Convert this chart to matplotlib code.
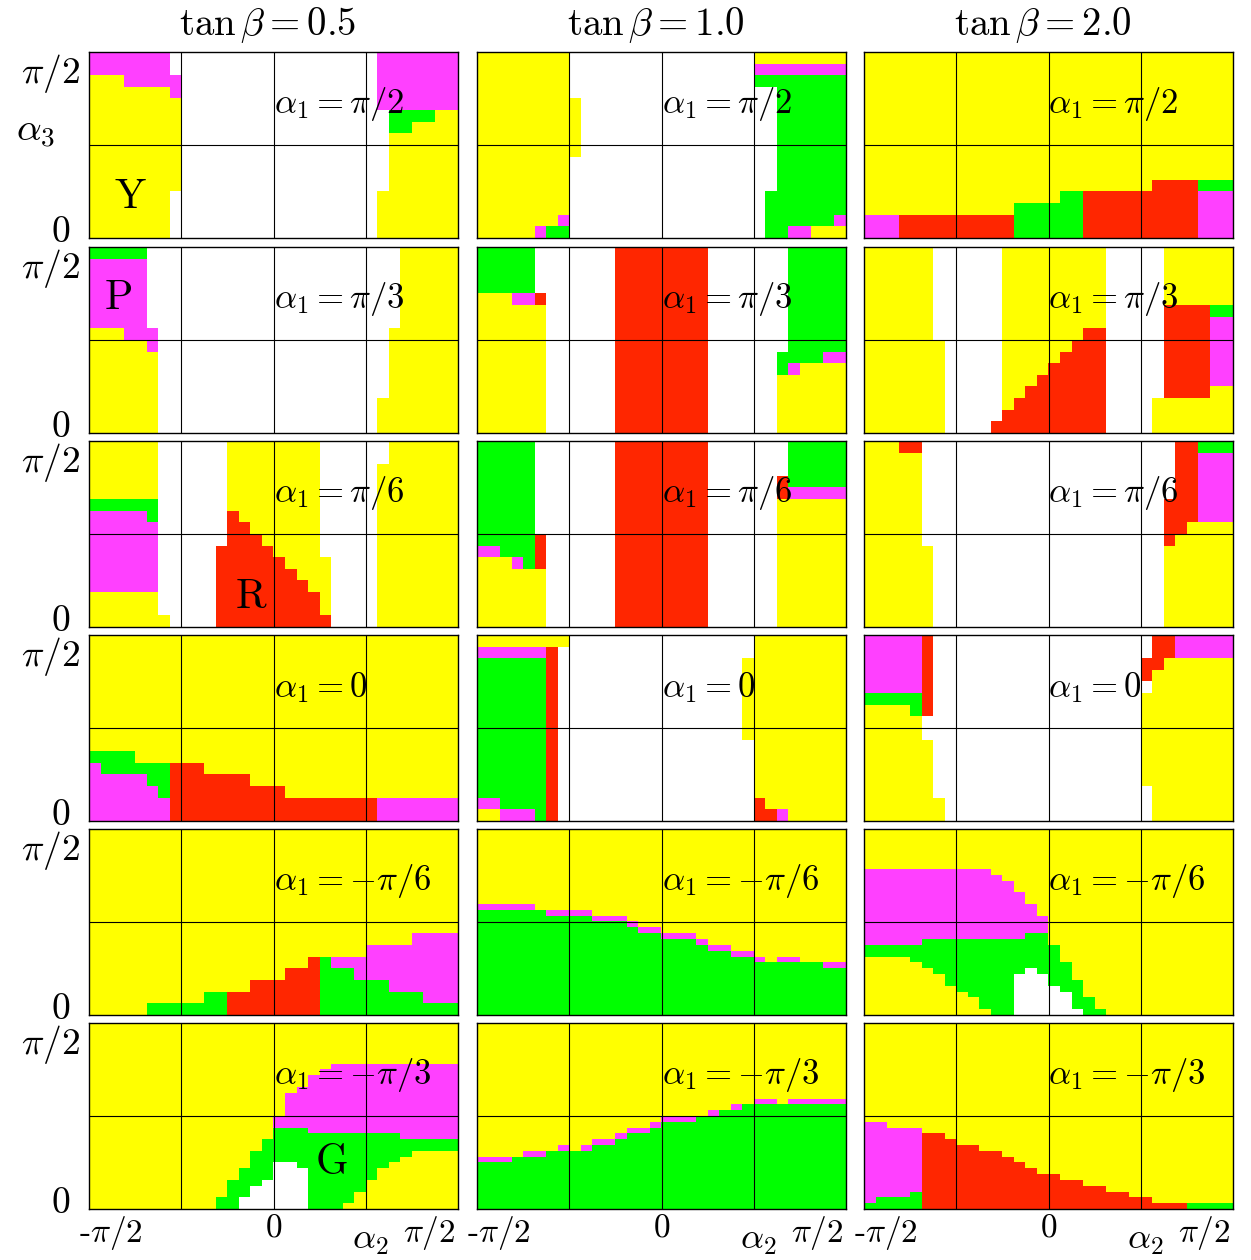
import numpy as np
import matplotlib
matplotlib.use("Agg")
import matplotlib.pyplot as plt
from matplotlib.colors import ListedColormap

plt.rcParams['mathtext.fontset'] = 'cm'
plt.rcParams['font.family'] = 'serif'
plt.rcParams['font.serif'] = ['cmr10']
plt.rcParams['axes.unicode_minus'] = False
plt.rcParams['axes.formatter.use_mathtext'] = True

# region maps over (alpha2, alpha3): each row is a run list "<code><count>",
# top row = alpha3 = pi/2, left column = alpha2 = -pi/2; "n*" repeats a row.
# Y yellow, P magenta, G green, R red, . white
tan_beta = ["0.5", "1.0", "2.0"]
alpha1 = [r"\pi/2", r"\pi/3", r"\pi/6", "0", r"-\pi/6", r"-\pi/3"]

map_05_pi2 = [
    "2*P7 .18 P7",
    "Y3 P5 .17 P7",
    "Y7 P1 .17 P7",
    "Y8 .17 P7",
    "Y8 .18 G4 Y2",
    "Y8 .18 G2 Y4",
    "5*Y8 .18 Y6",
    "4*Y7 .18 Y7",
]
map_10_pi2 = [
    "Y8 .16 Y8",
    "Y8 .16 P8",
    "Y8 .16 G8",
    "Y8 .18 G6",
    "5*Y9 .17 G6",
    "3*Y8 .18 G6",
    "2*Y8 .17 G7",
    "Y7 P1 .17 G6 P1",
    "Y5 P1 G2 .17 G2 P2 Y3",
]
map_20_pi2 = [
    "11*Y32",
    "Y25 R4 G3",
    "Y17 G2 R10 P3",
    "Y13 G6 R10 P3",
    "2*P3 R10 G6 R10 P3",
]

map_05_pi3 = [
    "G5 .22 Y5",
    "6*P5 .22 Y5",
    "Y3 P3 .20 Y6",
    "Y5 P1 .20 Y6",
    "4*Y6 .20 Y6",
    "3*Y6 .19 Y7",
]
map_10_pi3 = [
    "4*G5 .7 R8 .7 G5",
    "Y3 P2 R1 .6 R8 .7 G5",
    "4*Y6 .6 R8 .7 G5",
    "Y6 .6 R8 .6 G4 P2",
    "Y6 .6 R8 .6 G1 P1 Y4",
    "5*Y6 .6 R8 .6 Y6",
]
map_20_pi3 = [
    "5*Y6 .6 Y9 .5 Y6",
    "Y6 .6 Y9 .5 R4 G2",
    "Y6 .6 Y9 .5 R4 P2",
    "Y6 .6 Y7 R2 .5 R4 P2",
    "Y7 .5 Y6 R3 .5 R4 P2",
    "Y7 .5 Y5 R4 .5 R4 P2",
    "Y7 .5 Y4 R5 .5 R4 P2",
    "Y7 .5 Y3 R6 .5 R4 P2",
    "Y7 .5 Y2 R7 .5 R4 Y2",
    "Y7 .5 Y1 R8 .4 Y7",
    "Y7 .5 R9 .4 Y7",
    "Y7 .4 R10 .4 Y7",
]

map_05_pi6 = [
    "2*Y6 .6 Y8 .6 Y6",
    "3*Y6 .6 Y8 .5 Y7",
    "G6 .6 Y8 .5 Y7",
    "P5 G1 .6 R1 Y7 .5 Y7",
    "P6 .6 R2 Y6 .5 Y7",
    "P6 .6 R3 Y5 .5 Y7",
    "P6 .5 R5 Y4 .5 Y7",
    "P6 .5 R6 Y4 .4 Y7",
    "P6 .5 R7 Y3 .4 Y7",
    "P6 .5 R8 Y2 .4 Y7",
    "2*Y6 .5 R9 Y1 .4 Y7",
    "Y7 .4 R10 .4 Y7",
]
map_10_pi6 = [
    "3*G5 .7 R8 .7 G5",
    "G5 .7 R8 .6 R1 G5",
    "G5 .7 R8 .6 R1 P5",
    "3*G5 .7 R8 .6 Y6",
    "G5 R1 .6 R8 .6 Y6",
    "P2 G3 R1 .6 R8 .6 Y6",
    "Y3 P1 G1 R1 .6 R8 .6 Y6",
    "5*Y6 .6 R8 .6 Y6",
]
map_20_pi6 = [
    "Y3 R2 .22 R2 G3",
    "4*Y5 .22 R2 P3",
    "2*Y5 .21 R3 P3",
    "Y5 .21 R2 Y4",
    "Y5 .21 R1 Y5",
    "7*Y6 .20 Y6",
]

map_05_0 = [
    "10*Y32",
    "G4 Y28",
    "P1 G6 R3 Y22",
    "P5 G2 R7 Y18",
    "P6 G1 R10 Y15",
    "2*P7 R18 P7",
]
map_10_0 = [
    "Y8 .16 Y8",
    "P6 R1 .17 Y8",
    "7*G6 R1 .16 Y9",
    "5*G6 R1 .17 Y8",
    "P2 G4 R1 .17 R1 Y7",
    "Y2 P3 G1 R1 .17 R2 P1 Y5",
]
map_20_0 = [
    "2*P5 R1 .19 R2 P5",
    "P5 R1 .18 R2 Y6",
    "P5 R1 .18 R1 Y7",
    "P5 R1 .19 Y7",
    "G5 R1 .18 Y8",
    "Y4 G1 R1 .18 Y8",
    "2*Y5 .19 Y8",
    "4*Y6 .18 Y8",
    "Y6 .19 Y7",
    "2*Y7 .18 Y7",
]

map_05_mpi6 = [
    "9*Y32",
    "Y28 P4",
    "Y24 P8",
    "Y19 R1 G1 P11",
    "Y17 R3 G3 P9",
    "Y14 R6 G6 P6",
    "Y10 G2 R8 G9 P3",
    "Y5 G7 R8 G12",
]
map_10_mpi6 = [
    "13*Y32",
    "P5 Y27",
    "G6 P4 Y22",
    "G10 P3 Y19",
    "G13 P1 Y18",
    "G14 P2 Y16",
    "G16 P3 Y13",
    "G19 P1 Y12",
    "G20 P2 Y10",
    "G22 P2 Y8",
    "G24 P1 Y1 P2 Y4",
    "G30 P2",
    "8*G32",
]
map_20_mpi6 = [
    "7*Y32",
    "P11 Y21",
    "P12 Y20",
    "2*P13 Y19",
    "2*P14 Y18",
    "2*P15 Y17",
    "3*P16 Y16",
    "P14 G2 Y16",
    "P5 G11 Y16",
    "2*G17 Y15",
    "Y4 G13 Y15",
    "Y5 G13 Y14",
    "Y6 G8 .1 G3 Y14",
    "Y7 G6 .3 G2 Y14",
    "Y7 G6 .3 G3 Y13",
    "Y8 G5 .4 G2 Y13",
    "Y9 G4 .5 G1 Y13",
    "2*Y10 G3 .5 G2 Y12",
    "Y11 G2 .6 G2 Y11",
]

map_05_mpi3 = [
    "7*Y32",
    "Y21 P11",
    "Y20 P12",
    "2*Y19 P13",
    "Y18 P14",
    "4*Y17 P15",
    "2*Y16 P16",
    "Y16 G3 P13",
    "Y16 G11 P5",
    "2*Y15 G17",
    "Y14 G14 Y4",
    "Y14 G13 Y5",
    "Y14 G2 .2 G8 Y6",
    "2*Y13 G3 .3 G6 Y7",
    "Y12 G3 .4 G5 Y8",
    "Y12 G2 .5 G5 Y8",
    "Y12 G2 .5 G4 Y9",
    "Y11 G2 .6 G4 Y9",
    "Y11 G2 .6 G3 Y10",
]
map_10_mpi3 = [
    "13*Y32",
    "Y24 P2 Y1 P5",
    "Y22 P1 G9",
    "Y20 P1 G11",
    "Y16 P3 G13",
    "Y15 P1 G16",
    "Y13 P2 G17",
    "Y12 P1 G19",
    "Y10 P2 G20",
    "Y7 P1 Y1 P1 G22",
    "Y4 P2 G26",
    "P3 G29",
    "8*G32",
]
map_20_mpi3 = [
    "17*Y32",
    "P2 Y30",
    "P5 Y27",
    "P5 R2 Y25",
    "P5 R3 Y24",
    "P5 R5 Y22",
    "P5 R7 Y20",
    "P5 R8 Y19",
    "P5 R9 Y18",
    "P5 R10 Y17",
    "P5 R12 Y15",
    "P5 R14 Y13",
    "P5 R16 Y11",
    "P4 G1 R18 Y9",
    "P1 G4 R20 Y7",
    "G5 R23 G4",
]

maps = [
    [map_05_pi2, map_10_pi2, map_20_pi2],
    [map_05_pi3, map_10_pi3, map_20_pi3],
    [map_05_pi6, map_10_pi6, map_20_pi6],
    [map_05_0, map_10_0, map_20_0],
    [map_05_mpi6, map_10_mpi6, map_20_mpi6],
    [map_05_mpi3, map_10_mpi3, map_20_mpi3],
]

# region tags: (row, col, letter, alpha2, alpha3)
tags = [
    (0, 0, "Y", -1.22, 0.34),
    (1, 0, "P", -1.32, 1.14),
    (2, 0, "R", -0.19, 0.25),
    (5, 0, "G", 0.50, 0.39),
]

codes = {"Y": 0, "P": 1, "G": 2, "R": 3, ".": 4}
cmap = ListedColormap(["#ffff00", "#ff40ff", "#00ff00", "#ff2600", "#ffffff"])


def expand(rows, ncol=32):
    grid = []
    for line in rows:
        rep = 1
        if "*" in line:
            n, line = line.split("*")
            rep = int(n)
        cells = []
        for tok in line.split():
            cells += [codes[tok[0]]] * int(tok[1:])
        cells = (cells + [cells[-1]] * ncol)[:ncol]
        grid += [cells] * rep
    return np.array(grid)


W, H = 1251, 1260
fig = plt.figure(figsize=(W / 100, H / 100), dpi=100)

lefts = [89, 477, 864]
tops = [52, 247, 441, 635, 829, 1023]
pw, ph = 369, 186
hp = np.pi / 2

for i, top in enumerate(tops):
    for j, left in enumerate(lefts):
        ax = fig.add_axes([left / W, 1 - (top + ph) / H, pw / W, ph / H])
        grid = expand(maps[i][j])
        ax.imshow(grid, cmap=cmap, vmin=-0.5, vmax=4.5, extent=(-hp, hp, 0, hp),
                  aspect="auto", interpolation="nearest", origin="upper")
        ax.set_xlim(-hp, hp)
        ax.set_ylim(0, hp)
        ax.set_xticks([-hp / 2, 0, hp / 2])
        ax.set_yticks([hp / 2])
        ax.set_axisbelow(False)
        ax.grid(True, color="black", lw=0.8)
        ax.tick_params(length=0, labelbottom=False, labelleft=False)
        for s in ax.spines.values():
            s.set_linewidth(1.0)
            s.set_color("black")

        ax.text(0, 0.72 * hp, rf"$\alpha_1 = {alpha1[i]}$", fontsize=25,
                ha="left", va="center")

        if i == 0:
            fig.text((left + pw / 2 - 6) / W, 1 - 25 / H,
                     rf"$\tan\beta = {tan_beta[j]}$", fontsize=28,
                     ha="center", va="center")
        if j == 0:
            ax.text(-0.024, 1.0, r"$\pi/2$", transform=ax.transAxes,
                    fontsize=27, ha="right", va="top")
            ax.text(-0.05, 0.03, r"$0$", transform=ax.transAxes,
                    fontsize=27, ha="right", va="center")
        if i == len(tops) - 1:
            ax.text(-0.027, -0.025, r"-$\pi/2$", transform=ax.transAxes,
                    fontsize=24, ha="left", va="top")
            ax.text(0.5, -0.025, r"$0$", transform=ax.transAxes,
                    fontsize=24, ha="center", va="top")
            ax.text(0.992, -0.025, r"$\pi/2$", transform=ax.transAxes,
                    fontsize=24, ha="right", va="top")
            ax.text(0.762, -0.175, r"$\alpha_2$", transform=ax.transAxes,
                    fontsize=26, ha="center", va="center")
        if i == 0 and j == 0:
            ax.text(-0.146, 0.57, r"$\alpha_3$", transform=ax.transAxes,
                    fontsize=28, ha="center", va="center")

        for r, c, letter, x, y in tags:
            if r == i and c == j:
                ax.text(x, y, letter, fontsize=30, ha="center", va="center")

fig.savefig("out.png", dpi=100)
